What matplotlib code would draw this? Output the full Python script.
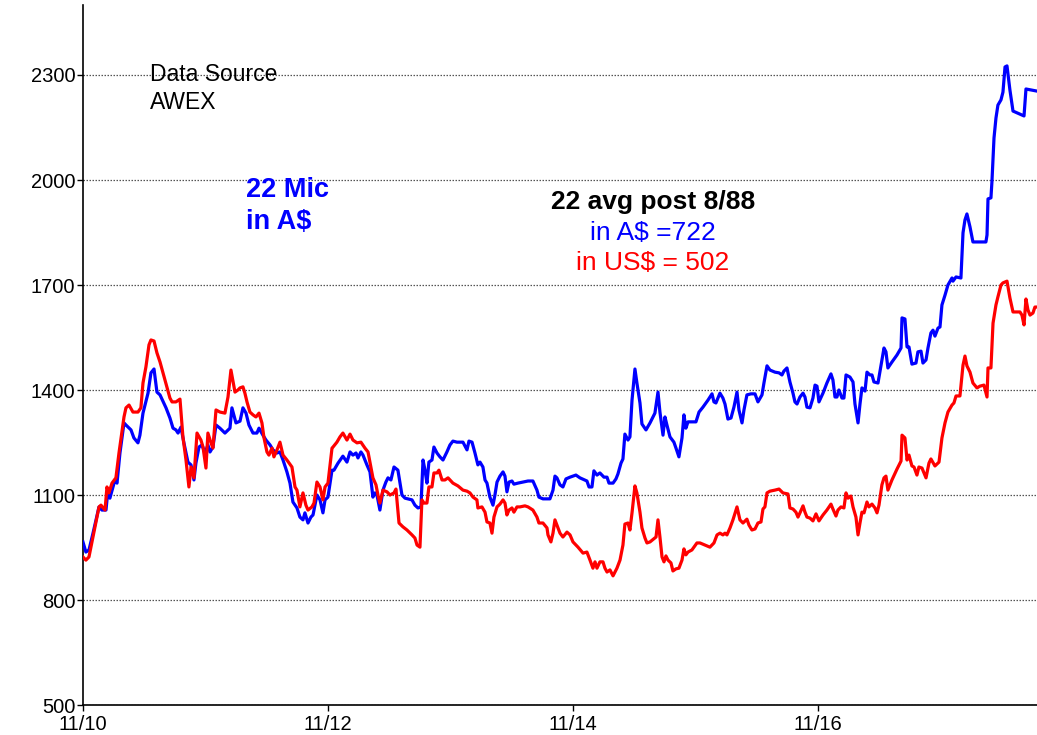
import matplotlib
matplotlib.use('Agg')
import matplotlib.pyplot as plt

# 22 micron wool price (c/kg clean), AWEX, weekly sales
aud_dates = [2010.833, 2010.857, 2010.882, 2010.915, 2010.964, 2010.988, 2011.021, 2011.037, 2011.053, 2011.094,
             2011.111, 2011.135, 2011.168, 2011.184, 2011.225, 2011.249, 2011.282, 2011.298, 2011.323, 2011.364,
             2011.388, 2011.413, 2011.437, 2011.462, 2011.511, 2011.543, 2011.568, 2011.592, 2011.609, 2011.633,
             2011.657, 2011.690, 2011.715, 2011.739, 2011.755, 2011.780, 2011.804, 2011.829, 2011.853, 2011.870,
             2011.894, 2011.919, 2011.951, 2011.992, 2012.033, 2012.049, 2012.082, 2012.115, 2012.139, 2012.164,
             2012.188, 2012.221, 2012.253, 2012.270, 2012.302, 2012.327, 2012.360, 2012.384, 2012.417, 2012.441,
             2012.466, 2012.498, 2012.523, 2012.547, 2012.580, 2012.604, 2012.629, 2012.645, 2012.670, 2012.694,
             2012.711, 2012.743, 2012.768, 2012.792, 2012.809, 2012.833, 2012.866, 2012.882, 2012.915, 2012.955,
             2012.988, 2013.013, 2013.037, 2013.062, 2013.078, 2013.102, 2013.119, 2013.151, 2013.176, 2013.200,
             2013.217, 2013.233, 2013.257, 2013.282, 2013.306, 2013.323, 2013.347, 2013.372, 2013.404, 2013.437,
             2013.462, 2013.519, 2013.543, 2013.568, 2013.592, 2013.609, 2013.625, 2013.641, 2013.657, 2013.682,
             2013.698, 2013.723, 2013.747, 2013.772, 2013.804, 2013.829, 2013.853, 2013.886, 2013.935, 2013.968,
             2013.984, 2014.009, 2014.033, 2014.057, 2014.074, 2014.098, 2014.115, 2014.131, 2014.155, 2014.180,
             2014.196, 2014.213, 2014.237, 2014.262, 2014.278, 2014.294, 2014.311, 2014.335, 2014.351, 2014.384,
             2014.425, 2014.466, 2014.506, 2014.539, 2014.555, 2014.588, 2014.645, 2014.670, 2014.686, 2014.702,
             2014.727, 2014.751, 2014.776, 2014.809, 2014.857, 2014.890, 2014.947, 2014.964, 2014.988, 2015.004,
             2015.029, 2015.053, 2015.086, 2015.111, 2015.127, 2015.160, 2015.184, 2015.200, 2015.225, 2015.241,
             2015.257, 2015.282, 2015.298, 2015.315, 2015.339, 2015.355, 2015.380, 2015.396, 2015.429, 2015.462,
             2015.502, 2015.527, 2015.543, 2015.568, 2015.584, 2015.600, 2015.625, 2015.657, 2015.674, 2015.698,
             2015.723, 2015.739, 2015.755, 2015.772, 2015.837, 2015.862, 2015.894, 2015.935, 2015.968, 2015.984,
             2016.000, 2016.033, 2016.057, 2016.074, 2016.098, 2016.123, 2016.147, 2016.172, 2016.188, 2016.213,
             2016.229, 2016.253, 2016.286, 2016.319, 2016.343, 2016.376, 2016.392, 2016.417, 2016.441, 2016.482,
             2016.515, 2016.539, 2016.555, 2016.580, 2016.604, 2016.629, 2016.645, 2016.662, 2016.686, 2016.711,
             2016.727, 2016.743, 2016.768, 2016.792, 2016.809, 2016.825, 2016.841, 2016.874, 2016.906, 2016.939,
             2016.955, 2016.972, 2016.988, 2017.004, 2017.029, 2017.045, 2017.062, 2017.094, 2017.119, 2017.135,
             2017.151, 2017.160, 2017.176, 2017.192, 2017.217, 2017.233, 2017.257, 2017.274, 2017.290, 2017.323,
             2017.355, 2017.372, 2017.388, 2017.404, 2017.437, 2017.478, 2017.511, 2017.519, 2017.543, 2017.560,
             2017.576, 2017.600, 2017.633, 2017.649, 2017.674, 2017.690, 2017.715, 2017.731, 2017.755, 2017.772,
             2017.788, 2017.813, 2017.829, 2017.845, 2017.870, 2017.894, 2017.927, 2017.935, 2017.960, 2018.000,
             2018.017, 2018.033, 2018.049, 2018.074, 2018.098, 2018.204, 2018.213, 2018.221, 2018.245, 2018.253,
             2018.270, 2018.286, 2018.302, 2018.327, 2018.343, 2018.360, 2018.376, 2018.400, 2018.425, 2018.515,
             2018.531, 2018.621]
aud_price = [966, 937, 943, 991, 1066, 1057, 1057, 1114, 1091, 1143,
             1134, 1220, 1306, 1300, 1286, 1263, 1249, 1271, 1334, 1391,
             1449, 1460, 1394, 1386, 1349, 1320, 1291, 1286, 1277, 1294,
             1249, 1194, 1186, 1143, 1191, 1237, 1243, 1220, 1243, 1223,
             1237, 1300, 1291, 1277, 1291, 1349, 1306, 1311, 1349, 1334,
             1300, 1277, 1277, 1291, 1271, 1257, 1243, 1229, 1220, 1223,
             1200, 1166, 1134, 1080, 1063, 1037, 1029, 1049, 1020, 1037,
             1043, 1100, 1086, 1049, 1086, 1094, 1171, 1171, 1191, 1211,
             1194, 1223, 1214, 1220, 1206, 1223, 1214, 1186, 1166, 1094,
             1106, 1100, 1057, 1114, 1137, 1149, 1143, 1180, 1171, 1100,
             1091, 1086, 1071, 1063, 1066, 1200, 1171, 1134, 1194, 1200,
             1237, 1220, 1209, 1200, 1223, 1243, 1254, 1251, 1251, 1229,
             1254, 1251, 1220, 1186, 1194, 1180, 1143, 1134, 1094, 1071,
             1100, 1137, 1154, 1166, 1154, 1109, 1137, 1140, 1131, 1134,
             1137, 1140, 1140, 1114, 1094, 1089, 1089, 1114, 1154, 1149,
             1129, 1123, 1146, 1151, 1157, 1149, 1140, 1123, 1123, 1169,
             1157, 1163, 1151, 1151, 1134, 1134, 1146, 1160, 1191, 1203,
             1274, 1257, 1266, 1371, 1460, 1420, 1363, 1303, 1286, 1306,
             1334, 1394, 1337, 1271, 1323, 1300, 1266, 1251, 1234, 1209,
             1263, 1329, 1291, 1309, 1309, 1337, 1351, 1371, 1389, 1366,
             1363, 1391, 1377, 1360, 1317, 1320, 1351, 1394, 1343, 1306,
             1343, 1386, 1389, 1389, 1366, 1386, 1420, 1469, 1457, 1451,
             1449, 1443, 1454, 1463, 1423, 1391, 1366, 1360, 1380, 1391,
             1380, 1351, 1349, 1377, 1414, 1411, 1366, 1391, 1420, 1446,
             1429, 1380, 1380, 1400, 1377, 1377, 1443, 1437, 1423, 1360,
             1326, 1306, 1360, 1406, 1397, 1451, 1443, 1443, 1423, 1420,
             1486, 1520, 1509, 1463, 1480, 1500, 1520, 1606, 1603, 1523,
             1523, 1474, 1477, 1509, 1511, 1477, 1486, 1520, 1563, 1571,
             1554, 1577, 1580, 1643, 1671, 1700, 1720, 1711, 1723, 1720,
             1849, 1886, 1903, 1866, 1823, 1823, 1843, 1946, 1949, 1994,
             2120, 2177, 2214, 2229, 2251, 2323, 2326, 2257, 2197, 2183,
             2260, 2254]

usd_dates = [2010.833, 2010.857, 2010.882, 2010.915, 2010.964, 2010.980, 2011.013, 2011.029, 2011.045, 2011.070,
             2011.102, 2011.127, 2011.168, 2011.184, 2011.209, 2011.241, 2011.282, 2011.306, 2011.323, 2011.347,
             2011.372, 2011.388, 2011.413, 2011.437, 2011.462, 2011.502, 2011.543, 2011.560, 2011.592, 2011.625,
             2011.649, 2011.674, 2011.698, 2011.715, 2011.739, 2011.764, 2011.796, 2011.813, 2011.837, 2011.853,
             2011.878, 2011.894, 2011.919, 2011.951, 2011.992, 2012.017, 2012.041, 2012.074, 2012.098, 2012.115,
             2012.139, 2012.155, 2012.172, 2012.196, 2012.221, 2012.245, 2012.270, 2012.294, 2012.311, 2012.335,
             2012.351, 2012.376, 2012.392, 2012.417, 2012.441, 2012.466, 2012.498, 2012.539, 2012.564, 2012.580,
             2012.604, 2012.629, 2012.653, 2012.670, 2012.702, 2012.719, 2012.743, 2012.768, 2012.792, 2012.809,
             2012.833, 2012.866, 2012.874, 2012.906, 2012.931, 2012.955, 2012.988, 2013.013, 2013.037, 2013.070,
             2013.102, 2013.135, 2013.160, 2013.200, 2013.225, 2013.241, 2013.257, 2013.282, 2013.315, 2013.339,
             2013.372, 2013.388, 2013.396, 2013.413, 2013.445, 2013.478, 2013.519, 2013.543, 2013.560, 2013.584,
             2013.600, 2013.617, 2013.641, 2013.657, 2013.682, 2013.698, 2013.723, 2013.739, 2013.764, 2013.788,
             2013.813, 2013.853, 2013.894, 2013.935, 2013.968, 2013.992, 2014.017, 2014.049, 2014.057, 2014.090,
             2014.115, 2014.131, 2014.155, 2014.172, 2014.188, 2014.213, 2014.237, 2014.262, 2014.278, 2014.294,
             2014.311, 2014.335, 2014.351, 2014.376, 2014.400, 2014.441, 2014.466, 2014.506, 2014.539, 2014.555,
             2014.588, 2014.621, 2014.629, 2014.653, 2014.670, 2014.686, 2014.702, 2014.727, 2014.751, 2014.784,
             2014.809, 2014.833, 2014.874, 2014.915, 2014.947, 2014.972, 2014.996, 2015.013, 2015.029, 2015.053,
             2015.078, 2015.094, 2015.111, 2015.135, 2015.160, 2015.192, 2015.217, 2015.241, 2015.257, 2015.282,
             2015.298, 2015.315, 2015.339, 2015.355, 2015.380, 2015.396, 2015.421, 2015.437, 2015.462, 2015.511,
             2015.527, 2015.543, 2015.560, 2015.576, 2015.592, 2015.609, 2015.633, 2015.649, 2015.674, 2015.698,
             2015.723, 2015.739, 2015.755, 2015.772, 2015.804, 2015.845, 2015.870, 2015.911, 2015.951, 2015.984,
             2016.009, 2016.033, 2016.057, 2016.074, 2016.090, 2016.115, 2016.139, 2016.172, 2016.196, 2016.221,
             2016.253, 2016.270, 2016.294, 2016.319, 2016.343, 2016.368, 2016.384, 2016.400, 2016.417, 2016.441,
             2016.482, 2016.515, 2016.547, 2016.588, 2016.604, 2016.629, 2016.653, 2016.670, 2016.686, 2016.711,
             2016.727, 2016.743, 2016.768, 2016.792, 2016.817, 2016.841, 2016.874, 2016.906, 2016.939, 2016.955,
             2016.980, 2016.996, 2017.021, 2017.045, 2017.062, 2017.078, 2017.102, 2017.119, 2017.143, 2017.160,
             2017.176, 2017.192, 2017.209, 2017.233, 2017.249, 2017.274, 2017.298, 2017.315, 2017.331, 2017.355,
             2017.372, 2017.388, 2017.404, 2017.437, 2017.478, 2017.511, 2017.519, 2017.543, 2017.560, 2017.576,
             2017.600, 2017.617, 2017.641, 2017.657, 2017.682, 2017.715, 2017.739, 2017.755, 2017.788, 2017.821,
             2017.845, 2017.870, 2017.894, 2017.927, 2017.943, 2017.960, 2017.992, 2018.017, 2018.033, 2018.049,
             2018.074, 2018.098, 2018.131, 2018.155, 2018.188, 2018.213, 2018.221, 2018.245, 2018.262, 2018.286,
             2018.302, 2018.327, 2018.343, 2018.376, 2018.400, 2018.425, 2018.482, 2018.498, 2018.515, 2018.531,
             2018.547, 2018.564, 2018.588, 2018.604, 2018.621]
usd_price = [923, 914, 923, 980, 1066, 1071, 1057, 1123, 1106, 1134,
             1149, 1220, 1323, 1349, 1357, 1337, 1337, 1349, 1420, 1466,
             1529, 1543, 1540, 1506, 1480, 1429, 1377, 1366, 1366, 1374,
             1266, 1200, 1123, 1180, 1149, 1277, 1257, 1237, 1177, 1277,
             1249, 1234, 1343, 1337, 1334, 1380, 1457, 1394, 1400, 1406,
             1409, 1391, 1366, 1337, 1329, 1323, 1334, 1306, 1263, 1223,
             1214, 1234, 1209, 1229, 1251, 1214, 1200, 1180, 1123, 1114,
             1066, 1106, 1071, 1057, 1066, 1077, 1137, 1123, 1086, 1123,
             1134, 1234, 1237, 1251, 1266, 1277, 1257, 1274, 1257, 1249,
             1251, 1234, 1223, 1149, 1129, 1100, 1077, 1114, 1109, 1100,
             1106, 1117, 1086, 1020, 1009, 1000, 986, 977, 957, 951,
             1086, 1077, 1077, 1123, 1123, 1163, 1163, 1171, 1143, 1143,
             1149, 1134, 1126, 1114, 1111, 1106, 1094, 1086, 1063, 1066,
             1051, 1023, 1020, 991, 1037, 1066, 1074, 1086, 1077, 1043,
             1057, 1063, 1051, 1066, 1066, 1069, 1066, 1057, 1037, 1020,
             1020, 1006, 986, 966, 991, 1029, 1014, 991, 980, 994,
             986, 966, 951, 934, 937, 914, 891, 909, 891, 909,
             909, 891, 880, 886, 869, 891, 914, 957, 1017, 1020,
             1000, 1049, 1126, 1106, 1051, 1006, 977, 963, 966, 980,
             1029, 980, 923, 909, 926, 914, 906, 883, 889, 891,
             914, 946, 929, 937, 943, 963, 963, 957, 951, 963,
             986, 991, 986, 991, 986, 1006, 1029, 1066, 1029, 1020,
             1031, 1014, 1000, 1003, 1020, 1023, 1060, 1066, 1106, 1111,
             1114, 1117, 1106, 1103, 1063, 1060, 1051, 1037, 1049, 1069,
             1051, 1037, 1034, 1026, 1046, 1026, 1043, 1057, 1074, 1060,
             1040, 1057, 1066, 1063, 1106, 1091, 1097, 1066, 1037, 986,
             1020, 1051, 1049, 1080, 1066, 1074, 1063, 1049, 1071, 1129,
             1149, 1154, 1114, 1143, 1174, 1197, 1271, 1263, 1200, 1214,
             1183, 1180, 1157, 1180, 1177, 1149, 1191, 1203, 1183, 1194,
             1263, 1306, 1337, 1357, 1363, 1383, 1383, 1471, 1497, 1469,
             1451, 1420, 1406, 1411, 1414, 1380, 1463, 1463, 1591, 1643,
             1666, 1700, 1706, 1711, 1663, 1623, 1623, 1614, 1586, 1660,
             1629, 1614, 1620, 1637, 1637]

y_ticks = [500, 800, 1100, 1400, 1700, 2000, 2300]
x_ticks = [2010.833, 2012.833, 2014.833, 2016.833]
x_labels = ['11/10', '11/12', '11/14', '11/16']

tick_font = ['Liberation Sans Narrow', 'Liberation Sans', 'DejaVu Sans']
text_font = ['Liberation Sans', 'DejaVu Sans']

fig = plt.figure(figsize=(10.37, 7.35), dpi=100)
ax = fig.add_axes([0.0800, 0.0408, 0.9200, 0.9524])

ax.plot(aud_dates, aud_price, color='#0000ff', lw=2.3, solid_joinstyle='round', zorder=3)
ax.plot(usd_dates, usd_price, color='#ff0000', lw=2.3, solid_joinstyle='round', zorder=4)

ax.set_xlim(2010.833, 2018.621)
ax.set_ylim(500, 2500)
ax.set_yticks(y_ticks)
ax.set_xticks(x_ticks)
ax.set_xticklabels(x_labels)

for s in ['top', 'right']:
    ax.spines[s].set_visible(False)
ax.spines['left'].set_linewidth(1.2)
ax.spines['bottom'].set_linewidth(1.2)

ax.yaxis.grid(True, color='#555555', linestyle=(0, (1.2, 1.2)), linewidth=0.9)
ax.set_axisbelow(True)
ax.tick_params(axis='both', length=4.5, width=1, direction='out', pad=1, labelsize=14.5)
ax.tick_params(axis='x', pad=2.5)
for lab in ax.get_xticklabels() + ax.get_yticklabels():
    lab.set_family(tick_font)
    lab.set_stretch('condensed')

tr = ax.transAxes
ax.text(0.0702, 0.900, 'Data Source', transform=tr, fontsize=16.5, family=text_font, va='center', ha='left')
ax.text(0.0702, 0.861, 'AWEX', transform=tr, fontsize=16.5, family=text_font, va='center', ha='left')
ax.text(0.1709, 0.736, '22 Mic', transform=tr, fontsize=19.5, fontweight='bold', color='#0000ff',
        family=text_font, va='center', ha='left')
ax.text(0.1709, 0.690, 'in A$', transform=tr, fontsize=19.5, fontweight='bold', color='#0000ff',
        family=text_font, va='center', ha='left')
ax.text(0.5975, 0.7186, '22 avg post 8/88', transform=tr, fontsize=19, fontweight='bold', color='black',
        family=text_font, va='center', ha='center')
ax.text(0.5975, 0.674, 'in A$ =722', transform=tr, fontsize=19, color='#0000ff',
        family=text_font, va='center', ha='center')
ax.text(0.5975, 0.631, 'in US$ = 502', transform=tr, fontsize=19, color='#ff0000',
        family=text_font, va='center', ha='center')

fig.savefig('out.png', dpi=100)
